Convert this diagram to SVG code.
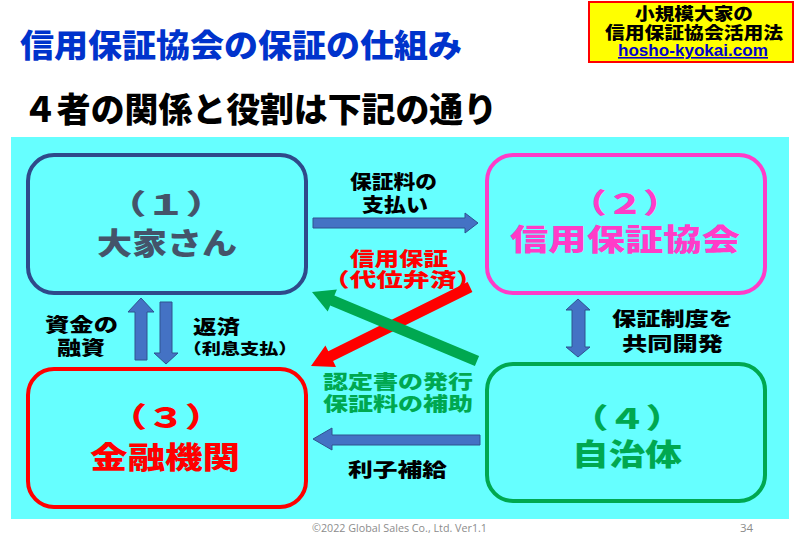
<svg xmlns="http://www.w3.org/2000/svg" width="800" height="554" viewBox="0 0 800 554">
<style>
.j{font-family:"Noto Sans CJK JP","Noto Sans CJK SC",sans-serif;font-weight:900;dominant-baseline:central;text-anchor:middle}
.lab{font-size:19px;fill:#000}
.box{fill:none;stroke-width:4}
.blu{fill:#4472C4;stroke:#2F528F;stroke-width:1}
</style>
<rect x="0" y="0" width="800" height="554" fill="#FFFFFF"/>
<rect x="11" y="137" width="778" height="382" fill="#66FFFF"/>

<g id="title">
<text class="j" x="20" y="43" font-size="32" fill="#0033CC" style="text-anchor:start" textLength="442" lengthAdjust="spacingAndGlyphs">信用保証協会の保証の仕組み</text>
<text class="j" x="23" y="107" font-size="34" fill="#000000" style="text-anchor:start" textLength="474" lengthAdjust="spacingAndGlyphs">４者の関係と役割は下記の通り</text>
</g>

<g id="badge">
<rect x="589" y="2" width="204" height="60" fill="#FFFF00" stroke="#FF0000" stroke-width="2"/>
<text class="j" x="694" y="13" font-size="16.5" fill="#000" textLength="118" lengthAdjust="spacingAndGlyphs">小規模大家の</text>
<text class="j" x="694" y="32" font-size="16.5" fill="#000" textLength="178" lengthAdjust="spacingAndGlyphs">信用保証協会活用法</text>
<text x="693" y="56" font-family="Liberation Sans, Arial, sans-serif" font-weight="bold" font-size="16" fill="#0000CC" text-anchor="middle" text-decoration="underline" textLength="150" lengthAdjust="spacingAndGlyphs">hosho-kyokai.com</text>
</g>

<g id="node1">
<rect class="box" x="28" y="155" width="278" height="138" rx="26" stroke="#2F4A8A"/>
<text class="j" x="166" y="203" font-size="28" fill="#44546A" textLength="118" lengthAdjust="spacingAndGlyphs">（１）</text>
<text class="j" x="167" y="241" font-size="30" fill="#44546A" textLength="140" lengthAdjust="spacingAndGlyphs">大家さん</text>
</g>

<g id="node2">
<rect class="box" x="487" y="155" width="278" height="138" rx="26" stroke="#FF3CC8"/>
<text class="j" x="625" y="202" font-size="28" fill="#FF3CC8" textLength="110" lengthAdjust="spacingAndGlyphs">（２）</text>
<text class="j" x="625" y="237" font-size="30" fill="#FF3CC8" textLength="230" lengthAdjust="spacingAndGlyphs">信用保証協会</text>
</g>

<g id="node3">
<rect class="box" x="28" y="369" width="278" height="138" rx="26" stroke="#FF0000"/>
<text class="j" x="166" y="416" font-size="28" fill="#FF0000" textLength="114" lengthAdjust="spacingAndGlyphs">（３）</text>
<text class="j" x="165" y="455" font-size="30" fill="#FF0000" textLength="150" lengthAdjust="spacingAndGlyphs">金融機関</text>
</g>

<g id="node4">
<rect class="box" x="487" y="364" width="278" height="137" rx="26" stroke="#00A850"/>
<text class="j" x="627" y="417" font-size="28" fill="#00A850" textLength="112" lengthAdjust="spacingAndGlyphs">（４）</text>
<text class="j" x="627" y="452" font-size="30" fill="#00A850" textLength="110" lengthAdjust="spacingAndGlyphs">自治体</text>
</g>

<g id="connectors">
<polygon class="blu" points="313,218 465,218 465,213 478,223 465,233 465,228 313,228"/>
<polygon class="blu" points="480,435 332,435 332,428 313,439 332,450 332,445 480,445"/>
<polygon class="blu" points="141,298 154,312 147,312 147,360 135,360 135,312 128,312"/>
<polygon class="blu" points="166,364 178,353 172,353 172,302 160,302 160,353 154,353"/>
<polygon class="blu" points="578,299 590,310 585,310 585,347 590,347 578,357 566,347 572,347 572,310 566,310"/>
<polygon fill="#FF0000" points="311,366 336,367 333.1,361.1 472.4,291.9 467.6,282.1 328.3,351.3 325.4,345.5"/>
<polygon fill="#00A850" points="312,292 336.9,289.4 334.4,295.4 479.1,355.9 474.9,366.1 330.2,305.6 327.7,311.6"/>
</g>

<g id="labels">
<text class="j lab" x="393.5" y="180" textLength="87" lengthAdjust="spacingAndGlyphs">保証料の</text>
<text class="j lab" x="395" y="203" textLength="66" lengthAdjust="spacingAndGlyphs">支払い</text>
<text class="j" x="399" y="257" font-size="19.5" fill="#FF0000" textLength="98" lengthAdjust="spacingAndGlyphs">信用保証</text>
<text class="j" x="403" y="278" font-size="19.5" fill="#FF0000" textLength="160" lengthAdjust="spacingAndGlyphs">（代位弁済）</text>
<text class="j" x="398" y="380" font-size="19.5" fill="#00A850" textLength="150" lengthAdjust="spacingAndGlyphs">認定書の発行</text>
<text class="j" x="398" y="402" font-size="19.5" fill="#00A850" textLength="150" lengthAdjust="spacingAndGlyphs">保証料の補助</text>
<text class="j lab" x="397.5" y="468" textLength="99" lengthAdjust="spacingAndGlyphs">利子補給</text>
<text class="j lab" x="81.5" y="323" textLength="73" lengthAdjust="spacingAndGlyphs">資金の</text>
<text class="j lab" x="81" y="346" textLength="48" lengthAdjust="spacingAndGlyphs">融資</text>
<text class="j lab" x="216.5" y="325" textLength="47" lengthAdjust="spacingAndGlyphs">返済</text>
<text class="j" x="240" y="347" font-size="15" fill="#000" textLength="115" lengthAdjust="spacingAndGlyphs">（利息支払）</text>
<text class="j lab" x="672.5" y="317" textLength="121" lengthAdjust="spacingAndGlyphs">保証制度を</text>
<text class="j lab" x="672.5" y="342" textLength="101" lengthAdjust="spacingAndGlyphs">共同開発</text>
</g>

<g id="footer">
<text x="312" y="532" font-family="Open Sans, Liberation Sans, sans-serif" font-size="11.5" fill="#8C8C8C" textLength="175" lengthAdjust="spacingAndGlyphs">©2022 Global Sales Co., Ltd. Ver1.1</text>
<text x="740" y="532" font-family="Open Sans, Liberation Sans, sans-serif" font-size="11.5" fill="#8C8C8C">34</text>
</g>
</svg>
